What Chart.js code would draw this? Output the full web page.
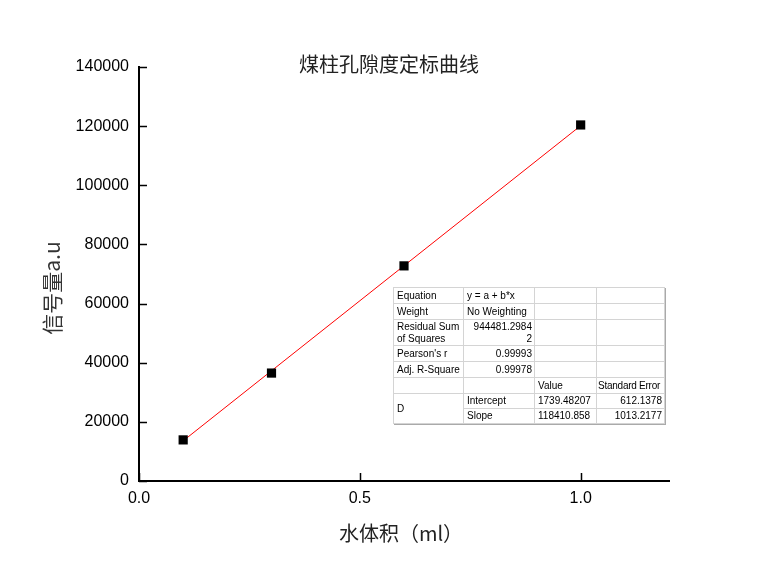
<!DOCTYPE html>
<html>
<head>
<meta charset="utf-8">
<script src="https://cdn.jsdelivr.net/npm/chart.js@4.4.0/dist/chart.umd.min.js"></script>
<style>
  html, body { margin: 0; padding: 0; background: #ffffff; }
  #wrap { position: relative; width: 777px; height: 578px; }
  #fitTable {
    position: absolute; left: 393px; top: 287px; width: 271px;
    border-collapse: collapse; table-layout: fixed;
    font-family: "Liberation Sans", Arial, sans-serif; font-size: 10px; color: #000;
    background: #fff; border: 1px solid #888;
    box-shadow: 1px 1px 0 #aaa;
  }
  #fitTable td {
    border: 1px solid #d4d4d4; padding: 0 2px 0 3px; line-height: 12px; white-space: nowrap;
    vertical-align: middle; overflow: hidden;
  }
  #fitTable td.r { text-align: right; }
  #fitTable td.se { padding: 0 0 0 1px; letter-spacing: -0.25px; }
</style>
</head>
<body>
<div id="wrap">
  <canvas id="c" width="777" height="578"></canvas>
  <table id="fitTable">
    <colgroup><col style="width:70px"><col style="width:71px"><col style="width:62px"><col style="width:68px"></colgroup>
    <tr style="height:16px"><td>Equation</td><td>y = a + b*x</td><td></td><td></td></tr>
    <tr style="height:16px"><td>Weight</td><td>No Weighting</td><td></td><td></td></tr>
    <tr style="height:26px"><td>Residual Sum<br>of Squares</td><td class="r">944481.2984<br>2</td><td></td><td></td></tr>
    <tr style="height:16px"><td>Pearson's r</td><td class="r">0.99993</td><td></td><td></td></tr>
    <tr style="height:16px"><td>Adj. R-Square</td><td class="r">0.99978</td><td></td><td></td></tr>
    <tr style="height:16px"><td></td><td></td><td>Value</td><td class="se">Standard Error</td></tr>
    <tr style="height:15px"><td rowspan="2">D</td><td>Intercept</td><td>1739.48207</td><td class="r">612.1378</td></tr>
    <tr style="height:15px"><td>Slope</td><td>118410.858</td><td class="r">1013.2177</td></tr>
  </table>
</div>
<script>
// ---- data ----
const chartTitle = '煤柱孔隙度定标曲线';
const xAxisTitle = '水体积（ml）';
const yAxisTitle = '信号量a.u';
const volumes = [0.1, 0.3, 0.6, 1.0];
const signals = [13900, 36500, 72750, 120400];
const fitX = [0.1, 1.0];
const fitY = [13580, 120150];
const xTickValues = [0, 0.5, 1.0];
const xTickLabels = ['0.0', '0.5', '1.0'];
const yTickValues = [0, 20000, 40000, 60000, 80000, 100000, 120000, 140000];
const yTickLabels = ['0', '20000', '40000', '60000', '80000', '100000', '120000', '140000'];

const LATIN = '"Liberation Sans", Arial, sans-serif';
const CJK = '"Noto Sans CJK SC", "Liberation Sans", sans-serif';

const decorPlugin = {
  id: 'decor',
  afterDraw(chart) {
    const ctx = chart.ctx;
    const ca = chart.chartArea;
    const xs = chart.scales.x, ys = chart.scales.y;
    ctx.save();
    // inward ticks
    ctx.strokeStyle = '#000';
    ctx.lineWidth = 1.5;
    ctx.beginPath();
    yTickValues.forEach(v => {
      const y = Math.round(ys.getPixelForValue(v)) + 0.5;
      ctx.moveTo(ca.left, y); ctx.lineTo(ca.left + 8, y);
    });
    xTickValues.forEach(v => {
      const x = Math.round(xs.getPixelForValue(v)) + 0.5;
      ctx.moveTo(x, ca.bottom); ctx.lineTo(x, ca.bottom - 8);
    });
    ctx.stroke();
    // titles
    ctx.fillStyle = '#222';
    ctx.textAlign = 'center';
    ctx.textBaseline = 'middle';
    ctx.font = '20px ' + CJK;
    ctx.fillText(chartTitle, ca.left + 250, ca.top - 3);
    ctx.font = '20px ' + CJK;
    ctx.fillText(xAxisTitle, ca.left + 262, ca.bottom + 52);
    ctx.save();
    ctx.translate(52, ca.top + 221);
    ctx.rotate(-Math.PI / 2);
    ctx.font = '21px ' + CJK;
    ctx.fillStyle = '#333';
    ctx.fillText(yAxisTitle, 0, 0);
    ctx.restore();
    ctx.restore();
  }
};

new Chart(document.getElementById('c'), {
  type: 'scatter',
  data: {
    datasets: [
      {
        label: 'fit',
        type: 'line',
        data: fitX.map((x, i) => ({ x: x, y: fitY[i] })),
        borderColor: '#ff0000',
        borderWidth: 1,
        pointRadius: 0,
        fill: false,
        order: 2
      },
      {
        label: 'D',
        data: volumes.map((x, i) => ({ x: x, y: signals[i] })),
        pointStyle: 'rect',
        pointRadius: 6.5,
        pointHoverRadius: 6.5,
        backgroundColor: '#000',
        borderColor: '#000',
        borderWidth: 0,
        order: 1
      }
    ]
  },
  options: {
    responsive: false,
    animation: false,
    devicePixelRatio: 1,
    layout: { padding: { top: 67, right: 108, left: 0, bottom: 0 } },
    plugins: {
      legend: { display: false },
      tooltip: { enabled: false },
      title: { display: false }
    },
    scales: {
      x: {
        type: 'linear',
        min: 0, max: 1.2,
        afterFit: s => { s.height = 97; },
        afterBuildTicks: s => { s.ticks = xTickValues.map(v => ({ value: v })); },
        grid: { display: false, drawTicks: false },
        border: { display: true, color: '#000', width: 2 },
        ticks: {
          padding: 8,
          color: '#000',
          font: { family: LATIN, size: 16 },
          callback: (v) => { const i = xTickValues.indexOf(v); return i >= 0 ? xTickLabels[i] : ''; },
          maxRotation: 0
        }
      },
      y: {
        type: 'linear',
        min: 0, max: 140000,
        afterFit: s => { s.width = 139; },
        afterBuildTicks: s => { s.ticks = yTickValues.map(v => ({ value: v })); },
        grid: { display: false, drawTicks: false },
        border: { display: true, color: '#000', width: 2 },
        ticks: {
          padding: 10,
          color: '#000',
          font: { family: LATIN, size: 16 },
          callback: (v) => { const i = yTickValues.indexOf(v); return i >= 0 ? yTickLabels[i] : ''; }
        }
      }
    }
  },
  plugins: [decorPlugin]
});
</script>
</body>
</html>
